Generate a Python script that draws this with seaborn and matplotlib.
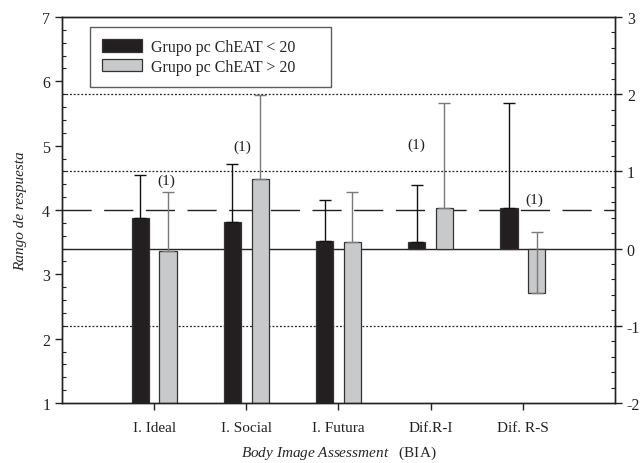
import matplotlib
matplotlib.use("Agg")
import matplotlib.pyplot as plt
from matplotlib.ticker import MultipleLocator
import pandas as pd
import seaborn as sns

categories = ["I. Ideal", "I. Social", "I. Futura", "Dif.R-I", "Dif. R-S"]
groups = ["Grupo pc ChEAT < 20", "Grupo pc ChEAT > 20"]
# first three use the left scale (1-7), the last two the right one (-2..3)
low_vals = [3.88, 3.82, 3.52, 0.09, 0.53]
low_errs = [0.66, 0.89, 0.63, 0.74, 1.35]
high_vals = [3.37, 4.48, 3.51, 0.53, -0.58]
high_errs = [0.91, 1.31, 0.77, 1.35, 0.80]
on_right = [False, False, False, True, True]

dotted_levels = [2.2, 4.6, 5.8]
solid_level = 3.4
dashed_level = 4.0

note_x = [0.13, 0.96, 2.84, 4.13]
note_y = [4.47, 4.99, 5.02, 4.16]

rows = []
for i, cat in enumerate(categories):
    for g, vals, errs in ((groups[0], low_vals, low_errs), (groups[1], high_vals, high_errs)):
        rows.append({'cat': cat, 'grupo': g, 'valor': vals[i], 'err': errs[i], 'derecha': on_right[i]})
df = pd.DataFrame(rows)

sns.set_theme(style="ticks")
plt.rcParams['font.family'] = ['Liberation Serif', 'DejaVu Serif']
plt.rcParams['mathtext.fontset'] = 'custom'
plt.rcParams['mathtext.it'] = 'Liberation Serif:italic'
plt.rcParams['mathtext.rm'] = 'Liberation Serif'
plt.rcParams['axes.unicode_minus'] = False

fig = plt.figure(figsize=(6.41, 4.64), dpi=100)
ax = fig.add_axes([0.0967, 0.1293, 0.8627, 0.8319])
ax2 = ax.twinx()

palette = {groups[0]: '#231f20', groups[1]: '#c8c9ca'}
err_colors = {groups[0]: '#111111', groups[1]: '#7a7a7a'}

for a, sub in ((ax, df[~df.derecha]), (ax2, df[df.derecha])):
    sns.barplot(data=sub, x='cat', y='valor', hue='grupo', order=categories, hue_order=groups,
                palette=palette, saturation=1, width=0.6, gap=0.38, errorbar=None,
                edgecolor='#333333', linewidth=0.9, legend=(a is ax), ax=a, zorder=2)
    for cont, g in zip(a.containers, groups):
        sub_g = sub[sub.grupo == g].set_index('cat')
        for bar in cont:
            xc = bar.get_x() + bar.get_width() / 2
            cat = categories[int(round(xc))]
            val = sub_g.loc[cat, 'valor']
            err = sub_g.loc[cat, 'err']
            a.errorbar(xc, val, yerr=[[0], [err]], fmt='none', ecolor=err_colors[g],
                       elinewidth=1, capsize=4, capthick=1, zorder=3)

# reference lines (left scale)
for lv in dotted_levels:
    ax.axhline(lv, color='#222222', lw=0.9, ls=(0, (1.5, 1.5)), zorder=1)
ax.axhline(solid_level, color='#222222', lw=1, zorder=1)
ax.axhline(dashed_level, color='#222222', lw=1, ls=(0, (21, 9)), zorder=1)

for x, y in zip(note_x, note_y):
    ax.text(x, y, '(1)', ha='center', va='center', fontsize=11, color='#222222')

ax.set_xlim(-1, 5)
ax.set_ylim(1, 7)
ax2.set_ylim(-2, 3)
ax.set_yticks(range(1, 8))
ax2.set_yticks(range(-2, 4))
ax.yaxis.set_minor_locator(MultipleLocator(0.2))
ax2.yaxis.set_minor_locator(MultipleLocator(0.2))

ax.tick_params(axis='y', which='major', direction='out', length=5, width=1, labelsize=11.5, colors='#222222')
ax.tick_params(axis='y', which='minor', direction='in', length=3, width=0.8, colors='#222222')
ax2.tick_params(axis='y', which='major', direction='out', length=5, width=1, labelsize=11.5, colors='#222222')
ax2.tick_params(axis='y', which='minor', direction='in', length=3, width=0.8, colors='#222222')
ax.tick_params(axis='x', direction='out', length=5, width=1, labelsize=11, colors='#222222', pad=8)

for a in (ax, ax2):
    for sp in a.spines.values():
        sp.set_linewidth(1)
        sp.set_color('#222222')

ax.set_ylabel('Rango de respuesta', fontsize=11, style='italic', labelpad=11)
ax2.set_ylabel('')
ax.set_xlabel(r'$\mathit{Body\ Image\ Assessment}$   (BIA)', fontsize=11, labelpad=7)

handles, labels = ax.get_legend_handles_labels()
if ax.get_legend() is not None:
    ax.get_legend().remove()
leg = ax2.legend(handles, labels, loc='upper left', bbox_to_anchor=(0.051, 0.832, 0.436, 0.142),
                 mode='expand', borderaxespad=0, fontsize=11.5, frameon=True, fancybox=False,
                 handlelength=2.5, handleheight=0.85, borderpad=0.75, labelspacing=0.22,
                 handletextpad=0.55)
leg.get_frame().set_edgecolor('#333333')
leg.get_frame().set_linewidth(1)

fig.savefig('out.png', dpi=100)
